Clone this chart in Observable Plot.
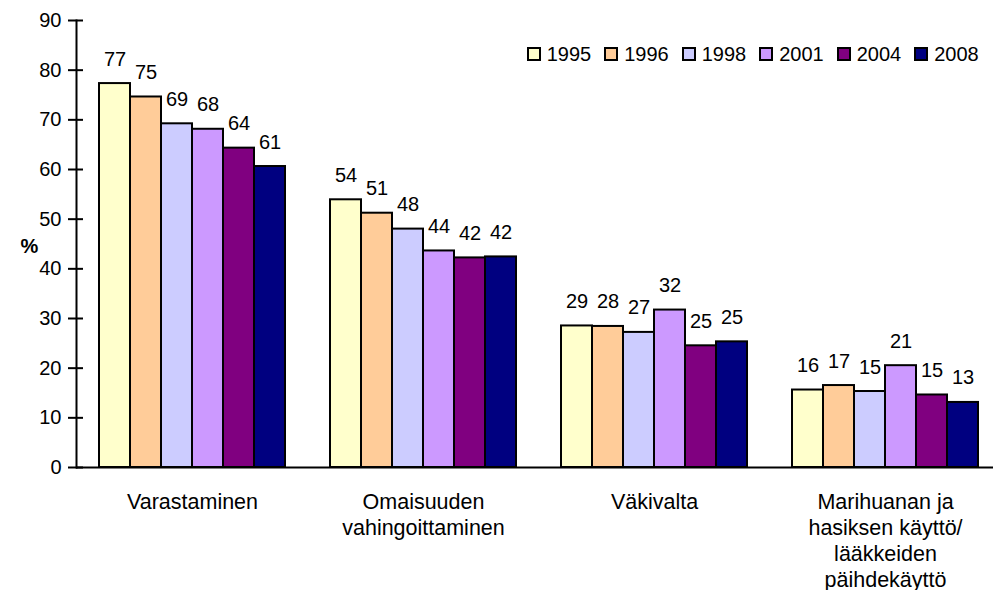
<!DOCTYPE html>
<html>
<head>
<meta charset="utf-8">
<script src="https://cdn.jsdelivr.net/npm/d3@7"></script>
<script src="https://cdn.jsdelivr.net/npm/@observablehq/plot@0.6"></script>
<style>
body { margin: 0; background: #fff; }
#wrap { position: relative; width: 993px; height: 590px; overflow: hidden; font-family: "Liberation Sans", Arial, sans-serif; background: #fff; }
#chart, #axes { position: absolute; left: 0; top: 0; }
#legend { position: absolute; left: 527.7px; top: 43.5px; }
#legend div { font-family: "Liberation Sans", Arial, sans-serif !important; font-size: 20px !important; line-height: 20px !important; min-height: 20px !important; margin: 0 !important; display: flex !important; align-items: center !important; flex-wrap: nowrap !important; color: #000; }
#legend span { display: inline-flex !important; align-items: center !important; margin-right: 14px !important; }
#legend span > svg { margin-right: 7px !important; overflow: visible !important; }
#legend span > svg rect { stroke: #000; stroke-width: 2px; }
</style>
</head>
<body>
<div id="wrap"><div id="chart"></div><div id="axes"></div><div id="legend"></div></div>
<script>
const categories = [
  "Varastaminen",
  "Omaisuuden\nvahingoittaminen",
  "Väkivalta",
  "Marihuanan ja\nhasiksen käyttö/\nlääkkeiden\npäihdekäyttö"
];
const years = ["1995", "1996", "1998", "2001", "2004", "2008"];
const colors = ["#FFFFCC", "#FFCC99", "#CCCCFF", "#CC99FF", "#800080", "#000080"];

const s1995 = [77.3, 53.9, 28.5, 15.6];
const s1996 = [74.6, 51.2, 28.4, 16.5];
const s1998 = [69.2, 48.0, 27.2, 15.3];
const s2001 = [68.1, 43.6, 31.7, 20.5];
const s2004 = [64.3, 42.2, 24.5, 14.6];
const s2008 = [60.6, 42.4, 25.3, 13.1];

const yTicks = [0, 10, 20, 30, 40, 50, 60, 70, 80, 90];

const series = [s1995, s1996, s1998, s2001, s2004, s2008];
const data = years.flatMap((yr, i) => categories.map((c, j) => ({category: c, year: yr, value: series[i][j]})));

const common = {
  width: 993,
  height: 590,
  marginLeft: 76,
  marginRight: 0,
  marginTop: 20,
  marginBottom: 123,
  y: {domain: [0, 90], axis: null, label: null}
};

const chart = Plot.plot({
  ...common,
  style: {fontFamily: "Liberation Sans, Arial, sans-serif", fontSize: "20px", color: "#000", background: "#fff", overflow: "visible"},
  fx: {domain: categories, range: [76, 1001.6], paddingInner: 0.196, paddingOuter: 0.098, axis: null, label: null},
  x: {domain: years, padding: 0, axis: null, label: null},
  color: {domain: years, range: colors},
  marks: [
    Plot.barY(data, {fx: "category", x: "year", y: "value", fill: "year", stroke: "#000", strokeWidth: 2}),
    Plot.text(data, {fx: "category", x: "year", y: "value", text: d => String(Math.round(d.value)), lineAnchor: "bottom", dy: -18, fontSize: 20, fill: "#000"}),
    Plot.text(categories, {fx: d => d, text: d => d, frameAnchor: "bottom", lineAnchor: "top", dy: 22.7, lineHeight: 1.21, fontSize: 21.5, fill: "#000"})
  ]
});
document.getElementById("chart").appendChild(chart);

const axes = Plot.plot({
  ...common,
  style: {fontFamily: "Liberation Sans, Arial, sans-serif", fontSize: "20px", color: "#000", background: "none", overflow: "visible"},
  marks: [
    Plot.ruleY([0], {stroke: "#000", strokeWidth: 2}),
    Plot.frame({anchor: "left", stroke: "#000", strokeWidth: 2}),
    Plot.axisY(yTicks, {tickSize: 15, dx: 7, tickFormat: () => "", label: null, stroke: "#000", strokeWidth: 2}),
    Plot.axisY(yTicks, {tickSize: 0, tickPadding: 15, label: null, fontSize: 20, fill: "#000"}),
    Plot.text(["%"], {frameAnchor: "left", dx: -56, dy: 3, fontWeight: "bold", fontSize: 20, fill: "#000"})
  ]
});
document.getElementById("axes").appendChild(axes);

const legend = Plot.legend({
  color: {type: "ordinal", domain: years, range: colors},
  swatchSize: 12,
  className: "lg"
});
document.getElementById("legend").appendChild(legend);
</script>
</body>
</html>
